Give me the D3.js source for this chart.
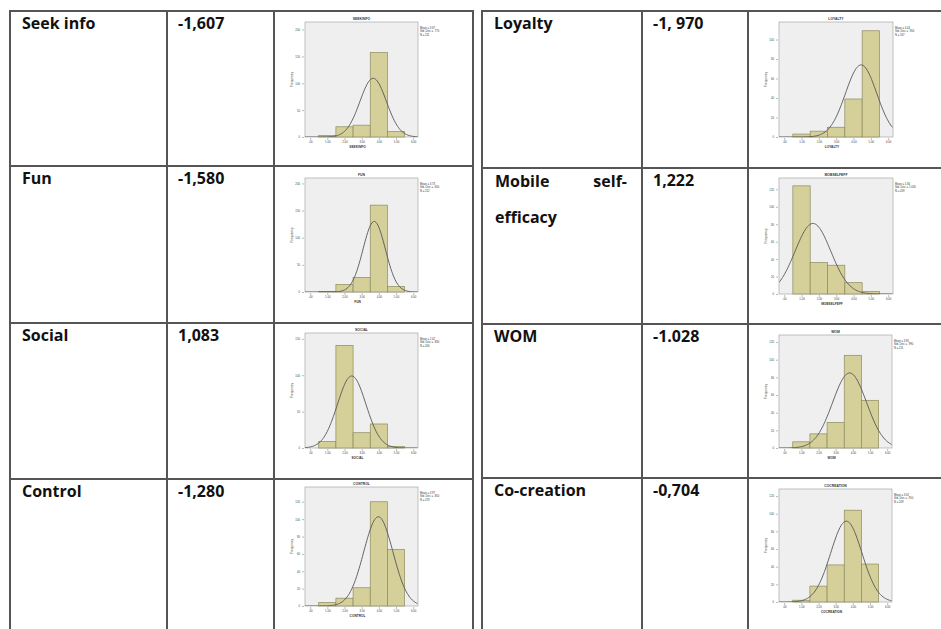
<!DOCTYPE html>
<html>
<head>
<meta charset="utf-8">
<script src="https://cdn.jsdelivr.net/npm/d3@7"></script>
<style>
  body { margin: 0; background: #fff; }
  svg { display: block; }
  .cell-text { font-family: "Open Sans", sans-serif; font-weight: 700; font-size: 16px; fill: #111; }
  .tiny { font-family: Arial, "Liberation Sans", sans-serif; fill: #333; }
</style>
</head>
<body>
<div id="chart"></div>
<script>
// Table content
var names = ["Seek info", "Fun", "Social", "Control", "Loyalty", "Mobile self-efficacy", "WOM", "Co-creation"],
    skewLabels = ["-1,607", "-1,580", "1,083", "-1,280", "-1, 970", "1,222", "-1.028", "-0,704"],
    titles = ["SEEKINFO", "FUN", "SOCIAL", "CONTROL", "LOYALTY", "MOBSELFEFF", "WOM", "COCREATION"];

// Histogram data (bins centred on 1..5, width 1)
var binCenters = [1, 2, 3, 4, 5];
var countsSeek = [3, 19, 22, 157, 10],
    countsFun = [1, 14, 27, 160, 10],
    countsSocial = [9, 141, 21, 33, 2],
    countsControl = [4, 9, 21, 120, 65],
    countsLoyalty = [3, 6, 10, 39, 109],
    countsMobile = [124, 36, 33, 13, 3],
    countsWom = [7, 16, 29, 105, 54],
    countsCocreation = [2, 18, 42, 104, 43];
var allCounts = [countsSeek, countsFun, countsSocial, countsControl,
                 countsLoyalty, countsMobile, countsWom, countsCocreation];

// normal curve parameters
var means = [3.67, 3.73, 2.42, 3.97, 4.44, 1.66, 3.81, 3.62],
    sds = [0.77, 0.65, 0.83, 0.85, 0.90, 1.03, 0.99, 0.91];

// axes
var xTicks = [0, 1, 2, 3, 4, 5, 6],
    xTickLabels = [".00", "1.00", "2.00", "3.00", "4.00", "5.00", "6.00"],
    yTops = [214, 210, 158, 137, 118, 133, 128, 128],
    ySteps = [50, 50, 50, 20, 20, 20, 20, 20];

// layout
var W = 941, H = 629,
    line_color = "#555",
    bar_fill = "#d5d09a",
    bar_stroke = "#8c8a5c",
    plot_bg = "#efefef";

var leftCols = [10, 167, 274, 473],
    rightCols = [482, 642, 748, 945],
    leftRows = [11, 166, 323, 479],
    rightRows = [11, 168, 324, 478];

var panelBoxes = [
  {x: 305, y: 22, w: 113, h: 115},
  {x: 305, y: 178, w: 113, h: 114},
  {x: 305, y: 333, w: 113, h: 115},
  {x: 305, y: 487, w: 113, h: 119},
  {x: 779, y: 22, w: 114, h: 115},
  {x: 779, y: 178, w: 114, h: 116},
  {x: 779, y: 335, w: 113, h: 113},
  {x: 779, y: 489, w: 113, h: 113}
];

var svg = d3.select("#chart").append("svg")
  .attr("width", W)
  .attr("height", H);

svg.append("rect").attr("width", W).attr("height", H).attr("fill", "#fff");

/* ****************************************
* Table grid
**************************************** */
function drawGrid(cols, rows) {
  var g = svg.append("g").attr("class", "grid");
  cols.forEach(function(x) {
    g.append("line")
      .attr("x1", x).attr("x2", x)
      .attr("y1", rows[0] - 1).attr("y2", H + 2)
      .attr("stroke", line_color).attr("stroke-width", 2);
  });
  rows.forEach(function(y) {
    g.append("line")
      .attr("x1", cols[0] - 1).attr("x2", cols[cols.length - 1] + 1)
      .attr("y1", y).attr("y2", y)
      .attr("stroke", line_color).attr("stroke-width", 2);
  });
}
drawGrid(leftCols, leftRows);
drawGrid(rightCols, rightRows);

/* ****************************************
* Cell texts
**************************************** */
names.forEach(function(name, i) {
  var right = i >= 4,
      cols = right ? rightCols : leftCols,
      rows = right ? rightRows : leftRows,
      top = rows[i % 4];

  if (name === "Mobile self-efficacy") {
    svg.append("text").attr("class", "cell-text")
      .attr("x", cols[0] + 13).attr("y", top + 19).text("Mobile");
    svg.append("text").attr("class", "cell-text")
      .attr("x", cols[1] - 15).attr("y", top + 19)
      .attr("text-anchor", "end").text("self-");
    svg.append("text").attr("class", "cell-text")
      .attr("x", cols[0] + 13).attr("y", top + 55).text("efficacy");
  } else {
    svg.append("text").attr("class", "cell-text")
      .attr("x", cols[0] + 12).attr("y", top + 18).text(name);
  }

  svg.append("text").attr("class", "cell-text")
    .attr("x", cols[1] + 11).attr("y", top + 18)
    .text(skewLabels[i]);
});

/* ****************************************
* Histograms
**************************************** */
function normalPdf(x, m, s) {
  return Math.exp(-0.5 * Math.pow((x - m) / s, 2)) / (s * Math.sqrt(2 * Math.PI));
}

allCounts.forEach(function(counts, i) {
  var box = panelBoxes[i],
      n = d3.sum(counts);

  var x = d3.scaleLinear().domain([-0.3, 6.28]).range([box.x, box.x + box.w]);
  var y = d3.scaleLinear().domain([0, yTops[i]]).range([box.y + box.h, box.y]);

  var g = svg.append("g").attr("class", "hist");

  g.append("rect")
    .attr("x", box.x).attr("y", box.y)
    .attr("width", box.w).attr("height", box.h)
    .attr("fill", plot_bg)
    .attr("stroke", "#9a9a9a").attr("stroke-width", 0.6);

  // bars
  g.selectAll("rect.bar")
    .data(counts)
    .enter().append("rect")
    .attr("class", "bar")
    .attr("x", function(d, j) { return x(binCenters[j] - 0.5); })
    .attr("width", function(d, j) { return x(binCenters[j] + 0.5) - x(binCenters[j] - 0.5); })
    .attr("y", function(d) { return y(d); })
    .attr("height", function(d) { return y(0) - y(d); })
    .attr("fill", bar_fill)
    .attr("stroke", bar_stroke)
    .attr("stroke-width", 0.7);

  // normal curve
  var clipId = "clip" + i;
  g.append("clipPath").attr("id", clipId)
    .append("rect")
    .attr("x", box.x).attr("y", box.y)
    .attr("width", box.w).attr("height", box.h);

  var curvePts = d3.range(-0.3, 6.3, 0.05);
  var line = d3.line()
    .x(function(v) { return x(v); })
    .y(function(v) { return y(n * normalPdf(v, means[i], sds[i])); })
    .curve(d3.curveBasis);

  g.append("path")
    .datum(curvePts)
    .attr("clip-path", "url(#" + clipId + ")")
    .attr("d", line)
    .attr("fill", "none")
    .attr("stroke", "#555")
    .attr("stroke-width", 0.9);

  // axes
  var xAxis = d3.axisBottom(x)
    .tickValues(xTicks)
    .tickFormat(function(d, j) { return xTickLabels[j]; })
    .tickSize(2).tickPadding(1.5);
  var yAxis = d3.axisLeft(y)
    .tickValues(d3.range(0, yTops[i], ySteps[i]))
    .tickSize(2).tickPadding(2);

  var gx = g.append("g")
    .attr("transform", "translate(0," + (box.y + box.h + 1) + ")")
    .call(xAxis);
  var gy = g.append("g")
    .attr("transform", "translate(" + (box.x - 1) + ",0)")
    .call(yAxis);

  [gx, gy].forEach(function(ax) {
    ax.select(".domain").remove();
    ax.selectAll("line").attr("stroke", "#777").attr("stroke-width", 0.5);
    ax.selectAll("text")
      .attr("font-family", "Arial, 'Liberation Sans', sans-serif")
      .attr("font-size", 2.8).attr("fill", "#444");
  });

  // title, axis labels
  g.append("text").attr("class", "tiny")
    .attr("x", box.x + box.w / 2).attr("y", box.y - 2.5)
    .attr("text-anchor", "middle")
    .attr("font-size", 3.4).attr("font-weight", 700)
    .text(titles[i]);

  g.append("text").attr("class", "tiny")
    .attr("x", box.x + box.w / 2 - 4).attr("y", box.y + box.h + 11)
    .attr("text-anchor", "middle")
    .attr("font-size", 3.2).attr("font-weight", 700)
    .text(titles[i]);

  g.append("text").attr("class", "tiny")
    .attr("transform", "translate(" + (box.x - 12) + "," + (box.y + box.h / 2) + ") rotate(-90)")
    .attr("text-anchor", "middle")
    .attr("font-size", 3.2)
    .text("Frequency");

  // legend
  var legend = ["Mean = " + means[i].toFixed(2),
                "Std. Dev. = " + sds[i].toFixed(3).replace(/^0/, ""),
                "N = " + n];
  g.selectAll("text.legend")
    .data(legend)
    .enter().append("text")
    .attr("class", "tiny legend")
    .attr("x", box.x + box.w + 2)
    .attr("y", function(d, j) { return box.y + 7 + j * 3.3; })
    .attr("font-size", 2.7)
    .text(function(d) { return d; });
});
</script>
</body>
</html>
